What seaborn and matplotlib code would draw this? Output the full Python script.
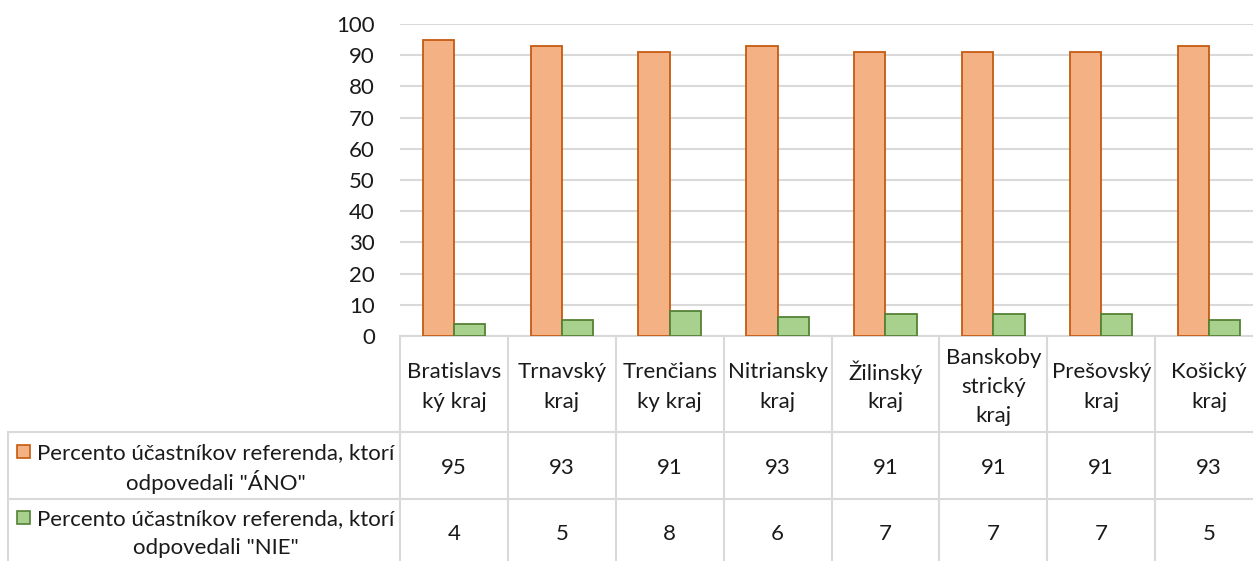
import numpy as np
import pandas as pd
import matplotlib
matplotlib.use("Agg")
import matplotlib.pyplot as plt
import matplotlib.transforms as mtransforms
from matplotlib.patches import Rectangle
from matplotlib.lines import Line2D
import seaborn as sns

# 数据
kraje = ["Bratislavs\nký kraj", "Trnavský\nkraj", "Trenčians\nky kraj", "Nitriansky\nkraj",
         "Žilinský\nkraj", "Banskoby\nstrický\nkraj", "Prešovský\nkraj", "Košický\nkraj"]
rady = ['Percento účastníkov referenda, ktorí\nodpovedali "ÁNO"',
        'Percento účastníkov referenda, ktorí\nodpovedali "NIE"']
ano = [95, 93, 91, 93, 91, 91, 91, 93]
nie = [4, 5, 8, 6, 7, 7, 7, 5]
y_ticks = list(range(0, 101, 10))

sns.set_theme(style="white")
plt.rcParams['font.family'] = ['Lato', 'DejaVu Sans']

fills = ['#F4B183', '#A9D18E']
edges = ['#C55A11', '#548235']
grid_c = '#D9D9D9'
txt_c = '#1A1A1A'
fs = 16
line_h = 29  # 行距（像素）

W, H = 1253, 561
fig = plt.figure(figsize=(W / 100, H / 100), dpi=100)
# 坐标区：0 在 y=336 px，100 在 y=24 px；右边被裁掉一点
ax = fig.add_axes([400 / W, (H - 336) / H, (1263 - 400) / W, (336 - 24) / H])

df = pd.DataFrame({
    'kraj': kraje * 2,
    'hodnota': ano + nie,
    'rad': [rady[0]] * len(kraje) + [rady[1]] * len(kraje),
})
sns.barplot(data=df, x='kraj', y='hodnota', hue='rad', palette=fills, width=0.58,
            saturation=1, linewidth=1.3, legend=False, ax=ax, zorder=3)
for cont, ec in zip(ax.containers, edges):
    for bar in cont:
        bar.set_edgecolor(ec)

ax.set_ylim(0, 100)
ax.set_xlim(-0.5, len(kraje) - 0.5)
ax.set_yticks(y_ticks)
ax.set_yticklabels([str(t) for t in y_ticks], fontsize=fs, color=txt_c)
ax.tick_params(axis='y', length=0, pad=18)
ax.tick_params(axis='x', length=0, labelbottom=False)
ax.set_xlabel('')
ax.set_ylabel('')
ax.yaxis.grid(True, color=grid_c, linewidth=1.5, zorder=0)
ax.set_axisbelow(True)
for s in ['top', 'right', 'left']:
    ax.spines[s].set_visible(False)
ax.spines['bottom'].set_color(grid_c)
ax.spines['bottom'].set_linewidth(1.5)

# 数据表
def fy(py):
    return 1 - py / H

def fx(px):
    return px / W

def lines_text(x, center_py, label, transform):
    # 逐行绘制，保证行距一致
    parts = label.split('\n')
    top = center_py - line_h * (len(parts) - 1) / 2
    for j, p in enumerate(parts):
        fig.text(x, fy(top + j * line_h), p, transform=transform, ha='center',
                 va='center_baseline', fontsize=fs, color=txt_c)

tr = mtransforms.blended_transform_factory(ax.transData, fig.transFigure)
lw = 1.5
# 列分隔线
for i in range(len(kraje) + 1):
    fig.add_artist(Line2D([i - 0.5, i - 0.5], [fy(336), fy(H + 2)], transform=tr,
                          color=grid_c, linewidth=lw, clip_on=False))
# 行分隔线
for py in [432, 499]:
    fig.add_artist(Line2D([fx(8), fx(1265)], [fy(py), fy(py)], transform=fig.transFigure,
                          color=grid_c, linewidth=lw))
fig.add_artist(Line2D([fx(8), fx(8)], [fy(432), fy(H + 2)], transform=fig.transFigure,
                      color=grid_c, linewidth=lw))

# 表头（类别名）
for i, k in enumerate(kraje):
    lines_text(i, 385, k, tr)

# 数值行
for row_y, vals in zip([466, 532], [ano, nie]):
    for i, v in enumerate(vals):
        fig.text(i, fy(row_y), str(v), transform=tr, ha='center', va='center_baseline',
                 fontsize=fs, color=txt_c)

# 左侧图例标签
for row_y, lab, fc, ec in zip([466, 532], rady, fills, edges):
    fig.add_artist(Rectangle((fx(17), fy(row_y - 8)), 13 / W, 13 / H,
                             transform=fig.transFigure, facecolor=fc, edgecolor=ec,
                             linewidth=1.2))
    lines_text(fx(216), row_y, lab, fig.transFigure)

fig.savefig('out.png', dpi=100)
